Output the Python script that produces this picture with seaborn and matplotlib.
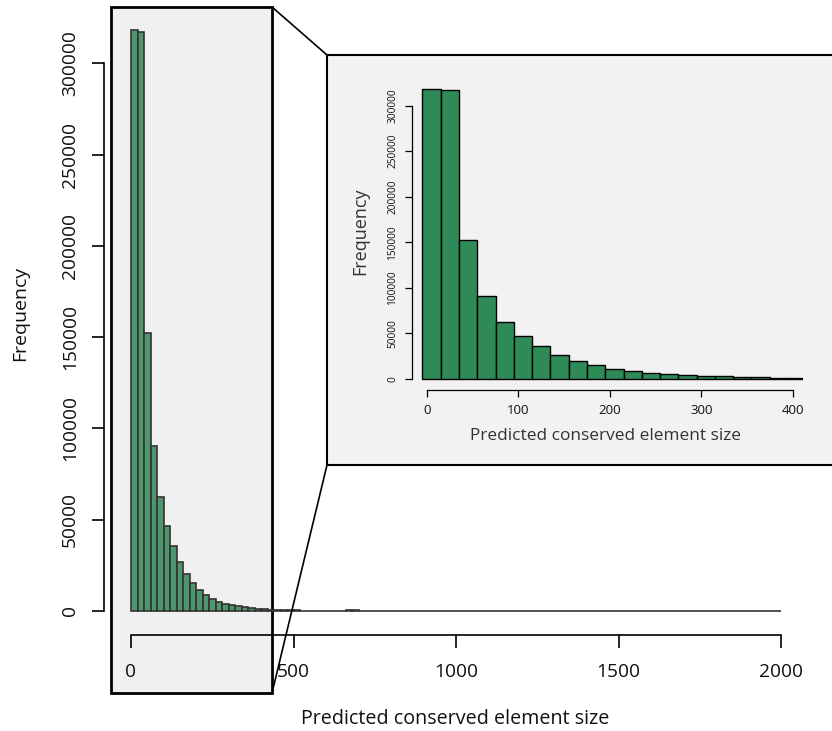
import numpy as np
import pandas as pd
import matplotlib
matplotlib.use("Agg")
import matplotlib.pyplot as plt
import seaborn as sns
from matplotlib.patches import Rectangle
from matplotlib.lines import Line2D

# main histogram: bins of width 20 from 0 to 2000
main_edges = list(range(0, 2020, 20))
main_counts = [318000, 316900, 152000, 90600, 62500, 46600, 35600, 26600, 20000, 15500,
               11300, 8700, 6800, 5000, 4000, 3200, 2600, 2000, 1600, 1200,
               900, 700, 560, 450, 370, 300, 250, 210, 180, 150,
               130, 110, 90, 700, 700, 60, 50, 40, 30, 25] + [10] * 20 + [0] * 40

# zoomed inset histogram
inset_edges = list(range(-5, 420, 20))
inset_counts = [318000, 316900, 152200, 90700, 62600, 46800, 35900, 26700, 20100, 15700,
                11300, 8800, 7000, 5100, 4000, 3300, 3300, 2600, 2600, 1500, 1500]

main_ticks_y = [0, 50000, 100000, 150000, 200000, 250000, 300000]
main_ticks_x = [0, 500, 1000, 1500, 2000]
inset_ticks_x = [0, 100, 200, 300, 400]
xlabel = "Predicted conserved element size"

main_df = pd.DataFrame({"size": np.array(main_edges[:-1]) + 10, "count": main_counts})
inset_df = pd.DataFrame({"size": np.array(inset_edges[:-1]) + 10, "count": inset_counts})

sns.set_style("white")
plt.rcParams["font.family"] = ["Open Sans", "DejaVu Sans"]
plt.rcParams["text.color"] = "#111111"
plt.rcParams["xtick.color"] = "black"
plt.rcParams["ytick.color"] = "black"
plt.rcParams["xtick.labelcolor"] = "#111111"
plt.rcParams["ytick.labelcolor"] = "#111111"
plt.rcParams["axes.labelcolor"] = "#111111"

W, H = 832, 731
fig = plt.figure(figsize=(W / 100, H / 100), dpi=100)


def fx(px):
    return px / W


def fy(py):
    return 1 - py / H


# gray zoom region box behind the main plot
fig.patches.append(Rectangle((fx(111), fy(693)), fx(272) - fx(111), fy(7) - fy(693),
                             transform=fig.transFigure, facecolor="#f0f0f0",
                             edgecolor="black", lw=2, zorder=-1))

# main axes
ax = fig.add_axes([fx(104), fy(620), fx(807) - fx(104), fy(7) - fy(620)])
ax.set_facecolor("none")
sns.histplot(data=main_df, x="size", weights="count", bins=main_edges, ax=ax,
             color="#4d966e", edgecolor="#333333", linewidth=1.2, alpha=1)
ax.set_xlim((104 - 131) / 0.325, (807 - 131) / 0.325)
ax.set_ylim(-(620 - 611) / 0.001826, (611 - 7) / 0.001826)
for s in ["top", "right"]:
    ax.spines[s].set_visible(False)
ax.spines["left"].set_bounds(0, 300000)
ax.spines["bottom"].set_bounds(0, 2000)
ax.spines["bottom"].set_position(("outward", 15 * 0.72))
for s in ["left", "bottom"]:
    ax.spines[s].set_linewidth(1.2)
    ax.spines[s].set_color("black")
ax.set_yticks(main_ticks_y)
ax.set_yticklabels([str(v) for v in main_ticks_y], rotation=90, va="center", fontsize=13.8)
ax.set_xticks(main_ticks_x)
ax.set_xticklabels([str(v) for v in main_ticks_x], fontsize=13.8)
ax.tick_params(axis="y", direction="out", length=9, width=1.2, left=True, pad=9)
ax.tick_params(axis="x", direction="out", length=9, width=1.2, bottom=True, pad=11)
ax.set_ylabel("Frequency", fontsize=14)
ax.yaxis.set_label_coords(fx(29), 0.5 * (fy(7) + fy(620)), transform=fig.transFigure)
ax.set_xlabel(xlabel, fontsize=14.2)
ax.xaxis.set_label_coords(fx(455), fy(709), transform=fig.transFigure)

# inset background box
fig.patches.append(Rectangle((fx(327), fy(465)), fx(840) - fx(327), fy(55) - fy(465),
                             transform=fig.transFigure, facecolor="#f2f2f2",
                             edgecolor="black", lw=1.5, zorder=2))

# connector lines
for (x0, y0, x1, y1) in [(272, 7, 327, 55), (272, 693, 327, 465)]:
    fig.lines.append(Line2D([fx(x0), fx(x1)], [fy(y0), fy(y1)], transform=fig.transFigure,
                            color="black", lw=1.2, zorder=5))

# inset axes
ix_scale = 0.914
iy_scale = 273.3 / 300000
axi = fig.add_axes([fx(412), fy(385), fx(803) - fx(412), fy(70) - fy(385)], zorder=3)
axi.set_facecolor("none")
sns.histplot(data=inset_df, x="size", weights="count", bins=inset_edges, ax=axi,
             color="#2e8b57", edgecolor="black", linewidth=1.0, alpha=1)
axi.set_xlim((412 - 427) / ix_scale, (803 - 427) / ix_scale)
axi.set_ylim(-(385 - 379) / iy_scale, (379 - 70) / iy_scale)
for s in ["top", "right"]:
    axi.spines[s].set_visible(False)
axi.spines["left"].set_bounds(0, 300000)
axi.spines["bottom"].set_bounds(0, 400)
axi.spines["bottom"].set_position(("outward", 5 * 0.72))
for s in ["left", "bottom"]:
    axi.spines[s].set_color("black")
    axi.spines[s].set_linewidth(0.9)
axi.set_yticks(main_ticks_y)
axi.set_yticklabels([str(v) for v in main_ticks_y], rotation=90, va="center", fontsize=7.3)
axi.set_xticks(inset_ticks_x)
axi.set_xticklabels([str(v) for v in inset_ticks_x], fontsize=9.5)
axi.tick_params(axis="both", direction="out", length=5, width=0.9,
                left=True, bottom=True, pad=5)
axi.set_ylabel("Frequency", fontsize=13, color="#333333")
axi.yaxis.set_label_coords(fx(369), fy(231), transform=fig.transFigure)
axi.set_xlabel(xlabel, fontsize=12.4, color="#333333")
axi.xaxis.set_label_coords(fx(605), fy(428), transform=fig.transFigure)

fig.savefig("out.png", dpi=100)
